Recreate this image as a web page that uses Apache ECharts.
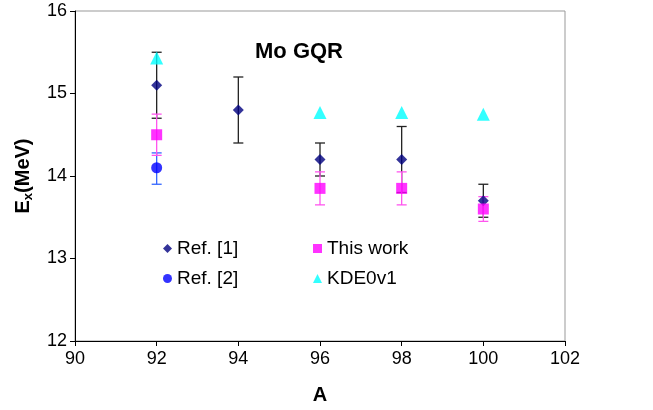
<!DOCTYPE html>
<html><head><meta charset="utf-8">
<script src="https://cdn.jsdelivr.net/npm/echarts@6/dist/echarts.min.js"></script>
<style>html,body{margin:0;padding:0;background:#fff}#c{width:653px;height:410px}</style>
</head><body><div id="c"></div>
<script>
// Data
const ref1A = [92, 94, 96, 98, 100];
const ref1E = [15.1, 14.8, 14.2, 14.2, 13.7];
const ref1Err = [0.4, 0.4, 0.2, 0.4, 0.2];
const ref2A = [92];
const ref2E = [14.1];
const ref2Lo = [13.9];
const ref2Hi = [14.28];
const workA = [92, 96, 98, 100];
const workE = [14.5, 13.85, 13.85, 13.6];
const workErr = [0.25, 0.2, 0.2, 0.15];
const kdeA = [92, 96, 98, 100];
const kdeE = [15.43, 14.77, 14.77, 14.75];
const xTicks = [90, 92, 94, 96, 98, 100, 102];
const yTicks = [12, 13, 14, 15, 16];

function errData(xs, lo, hi){ return xs.map((x,i)=>[x, lo[i], hi[i]]); }
function errSeries(data, color, z){
  return {
    type:'custom', z:z, silent:true,
    data:data,
    renderItem:function(params, api){
      const x = api.value(0);
      const p1 = api.coord([x, api.value(1)]);
      const p2 = api.coord([x, api.value(2)]);
      const hw = 5;
      const st = {stroke:color, lineWidth:1.3};
      return {type:'group', children:[
        {type:'line', shape:{x1:p1[0], y1:p1[1], x2:p2[0], y2:p2[1]}, style:st},
        {type:'line', shape:{x1:p1[0]-hw, y1:p1[1], x2:p1[0]+hw, y2:p1[1]}, style:st},
        {type:'line', shape:{x1:p2[0]-hw, y1:p2[1], x2:p2[0]+hw, y2:p2[1]}, style:st}
      ]};
    }
  };
}
const chart = echarts.init(document.getElementById('c'));
const font = 'Liberation Sans, Arial, sans-serif';
chart.setOption({
  animation:false,
  textStyle:{fontFamily:font},
  title:{text:'Mo GQR', left:250, top:36, textStyle:{fontFamily:font, fontSize:22, fontWeight:'bold', color:'#000'}},
  grid:{left:75, right:88, top:11, bottom:69, show:true, borderColor:'#999', borderWidth:1},
  legend:[
    {data:['Ref. [1]','Ref. [2]'], orient:'vertical', left:158, top:234, itemGap:11, itemWidth:9, itemHeight:9,
     textStyle:{fontFamily:font, fontSize:19, color:'#000'}},
    {data:['This work','KDE0v1'], orient:'vertical', left:308, top:234, itemGap:11, itemWidth:9, itemHeight:9,
     textStyle:{fontFamily:font, fontSize:19, color:'#000'}}
  ],
  xAxis:{type:'value', min:xTicks[0], max:xTicks[xTicks.length-1], interval:2,
    name:'A', nameLocation:'middle', nameGap:44,
    nameTextStyle:{fontFamily:font, fontSize:20, fontWeight:'bold', color:'#000'},
    axisLine:{lineStyle:{color:'#000'}}, axisTick:{show:true, length:5, lineStyle:{color:'#000'}},
    axisLabel:{fontFamily:font, fontSize:18, color:'#000', margin:9},
    splitLine:{show:false}},
  yAxis:{type:'value', min:yTicks[0], max:yTicks[yTicks.length-1], interval:1,
    name:'{a|E}{b|x}{a|(MeV)}', nameLocation:'middle', nameGap:40,
    nameTextStyle:{rich:{a:{fontFamily:font, fontSize:20, fontWeight:'bold', color:'#000'},
                         b:{fontFamily:font, fontSize:13, fontWeight:'bold', color:'#000', verticalAlign:'bottom', padding:[10,0,0,0]}}},
    axisLine:{show:true, lineStyle:{color:'#000'}}, axisTick:{show:true, length:5, lineStyle:{color:'#000'}},
    axisLabel:{fontFamily:font, fontSize:18, color:'#000', margin:8},
    splitLine:{show:false}},
  series:[
    errSeries(errData(ref1A, ref1E.map((v,i)=>v-ref1Err[i]), ref1E.map((v,i)=>v+ref1Err[i])), '#222', 2),
    errSeries(errData(ref2A, ref2Lo, ref2Hi), '#3366ff', 3),
    errSeries(errData(workA, workE.map((v,i)=>v-workErr[i]), workE.map((v,i)=>v+workErr[i])), '#ff55ee', 4),
    {name:'Ref. [1]', type:'scatter', symbol:'diamond', symbolSize:11, z:10,
     itemStyle:{color:'#000080'}, data:ref1A.map((x,i)=>[x, ref1E[i]])},
    {name:'Ref. [2]', type:'scatter', symbol:'circle', symbolSize:11, z:10,
     itemStyle:{color:'#0000ff'}, data:ref2A.map((x,i)=>[x, ref2E[i]])},
    {name:'This work', type:'scatter', symbol:'rect', symbolSize:11, z:11,
     itemStyle:{color:'#ff00ff'}, data:workA.map((x,i)=>[x, workE[i]])},
    {name:'KDE0v1', type:'scatter', symbol:'triangle', symbolSize:13, z:10,
     itemStyle:{color:'#00ffff'}, data:kdeA.map((x,i)=>[x, kdeE[i]])}
  ]
});
</script></body></html>
